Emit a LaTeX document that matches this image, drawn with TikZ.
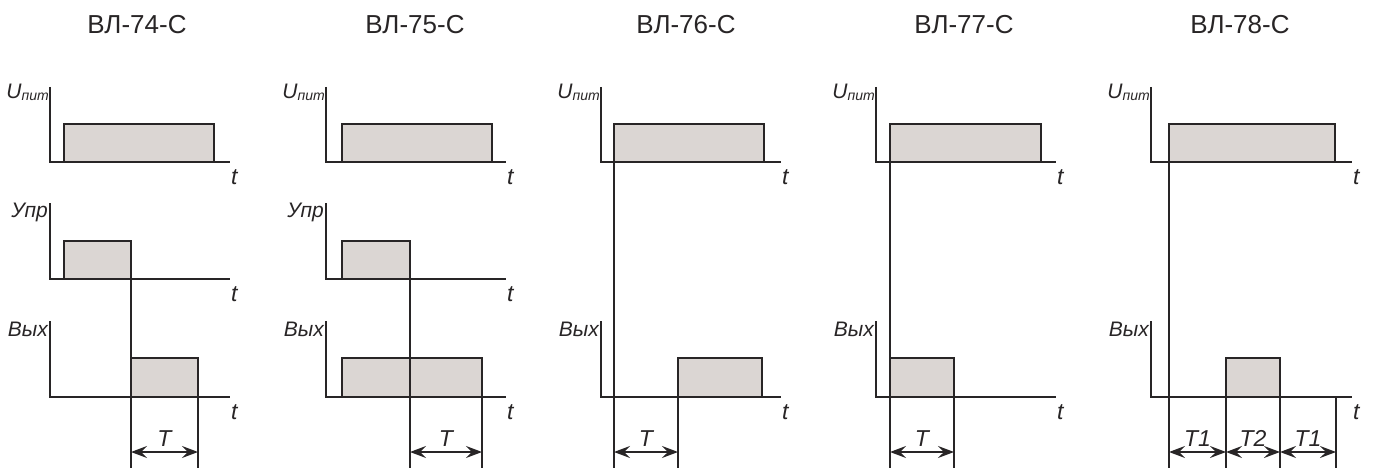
\documentclass[tikz,border=0pt]{standalone}
\usepackage{fontspec}
\setmainfont{Liberation Sans}
\usepackage{tikz}
\usetikzlibrary{arrows.meta,positioning,calc}
\definecolor{pulsegray}{RGB}{219,214,211}
\definecolor{inkgray}{RGB}{40,37,38}
\tikzstyle{pulse}=[draw=inkgray,fill=pulsegray,line width=1.4pt]
\tikzstyle{axisline}=[draw=inkgray,line width=1.4pt]
\tikzstyle{marker}=[draw=inkgray,line width=1.3pt]
\tikzstyle{dimarrow}=[draw=inkgray,line width=1.5pt,>={Stealth[length=16pt,width=12pt,inset=6pt]},<->]
\tikzstyle{dimlabel}=[anchor=base,inner sep=0pt,yshift=6pt,text=inkgray,font=\fontsize{23}{23}\selectfont\itshape]
\tikzstyle{siglabel}=[anchor=base east,inner sep=1pt,text=inkgray,font=\fontsize{21}{21}\selectfont\itshape]
\tikzstyle{tlabel}=[anchor=base west,inner sep=0pt,text=inkgray,font=\fontsize{23}{23}\selectfont\itshape]
\tikzstyle{relay}=[inner sep=0pt,text=inkgray,font=\fontsize{26}{26}\selectfont]
\newcommand{\upit}{U\raisebox{-2pt}{\fontsize{14}{14}\selectfont пит}}

\begin{document}
\begin{tikzpicture}[x=1pt,y=-1pt]
    \useasboundingbox (0,0) rectangle (1376,468);
    % VL-74-S
    \node [relay] (title74) at (137,25) {ВЛ-74-С};
    \draw [pulse] (64,124) rectangle (214,162);
    \draw [pulse] (64,241) rectangle (131,279);
    \draw [pulse] (131,358) rectangle (198,397);
    \draw [axisline] (50,87) -- (50,162) -- (230,162);
    \draw [axisline] (50,203) -- (50,279) -- (230,279);
    \draw [axisline] (50,321) -- (50,397) -- (230,397);
    \node [siglabel] (u74) at (50,99) {\upit};
    \node [siglabel] (c74) at (49,217) {Упр};
    \node [siglabel] (o74) at (49,336) {Вых};
    \node [tlabel] (tu74) at (231,184) {t};
    \node [tlabel] (tc74) at (231,301) {t};
    \node [tlabel] (to74) at (231,419) {t};
    \draw [marker] (131,241) -- (131,468);
    \draw [marker] (198,358) -- (198,468);
    \coordinate (a74) at (131,452);
    \coordinate (b74) at (198,452);
    \draw [dimarrow] (a74) -- node [dimlabel] {T} (b74);

    % VL-75-S
    \node [relay] (title75) at (415,25) {ВЛ-75-С};
    \draw [pulse] (342,124) rectangle (492,162);
    \draw [pulse] (342,241) rectangle (410,279);
    \draw [pulse] (342,358) rectangle (482,397);
    \draw [axisline] (326,87) -- (326,162) -- (506,162);
    \draw [axisline] (326,203) -- (326,279) -- (506,279);
    \draw [axisline] (326,321) -- (326,397) -- (506,397);
    \node [siglabel] (u75) at (326,99) {\upit};
    \node [siglabel] (c75) at (325,217) {Упр};
    \node [siglabel] (o75) at (325,336) {Вых};
    \node [tlabel] (tu75) at (507,184) {t};
    \node [tlabel] (tc75) at (507,301) {t};
    \node [tlabel] (to75) at (507,419) {t};
    \draw [marker] (410,241) -- (410,468);
    \draw [marker] (482,358) -- (482,468);
    \coordinate (a75) at (410,452);
    \coordinate (b75) at (482,452);
    \draw [dimarrow] (a75) -- node [dimlabel] {T} (b75);

    % VL-76-S
    \node [relay] (title76) at (686,25) {ВЛ-76-С};
    \draw [pulse] (614,124) rectangle (764,162);
    \draw [pulse] (678,358) rectangle (762,397);
    \draw [axisline] (601,87) -- (601,162) -- (781,162);
    \draw [axisline] (601,321) -- (601,397) -- (781,397);
    \node [siglabel] (u76) at (601,99) {\upit};
    \node [siglabel] (o76) at (600,336) {Вых};
    \node [tlabel] (tu76) at (782,184) {t};
    \node [tlabel] (to76) at (782,419) {t};
    \draw [marker] (614,124) -- (614,468);
    \draw [marker] (678,358) -- (678,468);
    \coordinate (a76) at (614,452);
    \coordinate (b76) at (678,452);
    \draw [dimarrow] (a76) -- node [dimlabel] {T} (b76);

    % VL-77-S
    \node [relay] (title77) at (964,25) {ВЛ-77-С};
    \draw [pulse] (890,124) rectangle (1041,162);
    \draw [pulse] (890,358) rectangle (954,397);
    \draw [axisline] (876,87) -- (876,162) -- (1056,162);
    \draw [axisline] (876,321) -- (876,397) -- (1056,397);
    \node [siglabel] (u77) at (876,99) {\upit};
    \node [siglabel] (o77) at (875,336) {Вых};
    \node [tlabel] (tu77) at (1057,184) {t};
    \node [tlabel] (to77) at (1057,419) {t};
    \draw [marker] (890,124) -- (890,468);
    \draw [marker] (954,358) -- (954,468);
    \coordinate (a77) at (890,452);
    \coordinate (b77) at (954,452);
    \draw [dimarrow] (a77) -- node [dimlabel] {T} (b77);

    % VL-78-S
    \node [relay] (title78) at (1240,25) {ВЛ-78-С};
    \draw [pulse] (1169,124) rectangle (1335,162);
    \draw [pulse] (1226,358) rectangle (1280,397);
    \draw [axisline] (1151,87) -- (1151,162) -- (1352,162);
    \draw [axisline] (1151,321) -- (1151,397) -- (1352,397);
    \node [siglabel] (u78) at (1151,99) {\upit};
    \node [siglabel] (o78) at (1150,336) {Вых};
    \node [tlabel] (tu78) at (1353,184) {t};
    \node [tlabel] (to78) at (1353,419) {t};
    \draw [marker] (1169,124) -- (1169,468);
    \draw [marker] (1226,358) -- (1226,468);
    \draw [marker] (1280,358) -- (1280,468);
    \draw [marker] (1336,397) -- (1336,468);
    \coordinate (a78) at (1169,452);
    \coordinate (b78) at (1226,452);
    \coordinate (c78) at (1280,452);
    \coordinate (d78) at (1336,452);
    \draw [dimarrow] (a78) -- node [dimlabel] {T1} (b78);
    \draw [dimarrow] (b78) -- node [dimlabel] {T2} (c78);
    \draw [dimarrow] (c78) -- node [dimlabel] {T1} (d78);
\end{tikzpicture}
\end{document}
